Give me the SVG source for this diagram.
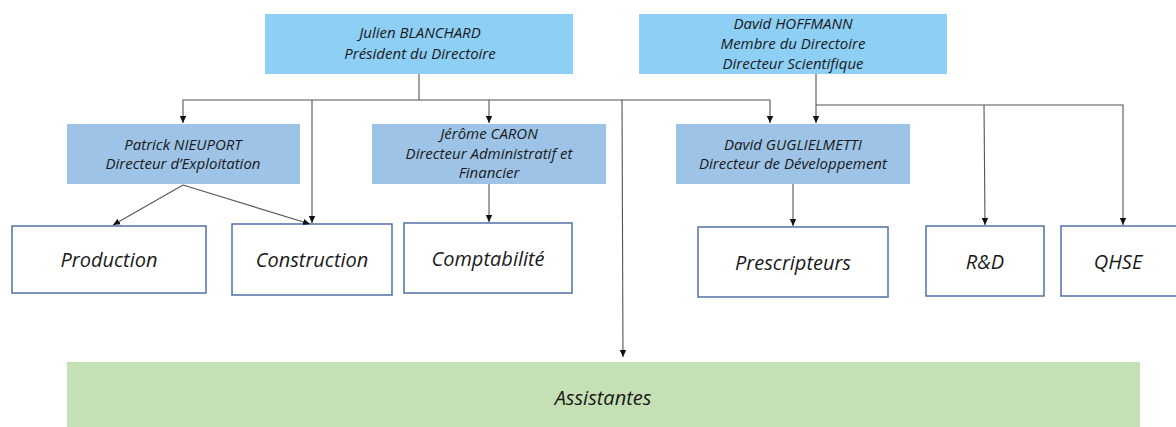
<svg xmlns="http://www.w3.org/2000/svg" width="1176" height="427" viewBox="0 0 1176 427">
<style>
.top{fill:#8ecff6;}
.mid{fill:#9dc3e6;}
.unit{fill:#ffffff;stroke:#4f71a8;stroke-width:1.5;}
.green{fill:#c5e0b4;}
text{font-family:"Open Sans",Lato,"Liberation Sans",sans-serif;font-style:italic;fill:#1a1a1a;text-anchor:middle;}
.s{font-size:15px;}
.l{font-size:20px;}
.c{fill:none;stroke:#555555;stroke-width:1.1;marker-end:url(#ah);}
.n{fill:none;stroke:#555555;stroke-width:1.1;}
</style>
<defs>
<marker id="ah" markerUnits="userSpaceOnUse" markerWidth="8" markerHeight="8" viewBox="0 0 8 8" refX="7" refY="4" orient="auto">
<path d="M0,0.8 L7,4 L0,7.2 Z" fill="#111111"/>
</marker>
</defs>
<g id="julien">
<rect class="top" x="265" y="14" width="308" height="60"/>
<text class="s" x="420" y="38">Julien BLANCHARD</text>
<text class="s" x="420" y="59">Président du Directoire</text>
</g>
<g id="hoffmann">
<rect class="top" x="639" y="14" width="308" height="60"/>
<text class="s" x="793" y="29">David HOFFMANN</text>
<text class="s" x="793" y="49">Membre du Directoire</text>
<text class="s" x="793" y="69">Directeur Scientifique</text>
</g>
<g id="patrick">
<rect class="mid" x="67" y="124" width="233" height="60"/>
<text class="s" x="183" y="150">Patrick NIEUPORT</text>
<text class="s" x="183" y="169">Directeur d’Exploitation</text>
</g>
<g id="jerome">
<rect class="mid" x="372" y="124" width="234" height="60"/>
<text class="s" x="489" y="139">Jérôme CARON</text>
<text class="s" x="489" y="159">Directeur Administratif et</text>
<text class="s" x="489" y="178">Financier</text>
</g>
<g id="guglielmetti">
<rect class="mid" x="676" y="124" width="234" height="60"/>
<text class="s" x="793" y="150">David GUGLIELMETTI</text>
<text class="s" x="793" y="169">Directeur de Développement</text>
</g>
<g id="production">
<rect class="unit" x="12" y="226" width="194" height="67"/>
<text class="l" x="109" y="267">Production</text>
</g>
<g id="construction">
<rect class="unit" x="232" y="224" width="160" height="71"/>
<text class="l" x="312" y="267">Construction</text>
</g>
<g id="comptabilite">
<rect class="unit" x="404" y="223" width="168" height="70"/>
<text class="l" x="488" y="266">Comptabilité</text>
</g>
<g id="prescripteurs">
<rect class="unit" x="698" y="227" width="190" height="70"/>
<text class="l" x="793" y="270">Prescripteurs</text>
</g>
<g id="rd">
<rect class="unit" x="926" y="226" width="118" height="70"/>
<text class="l" x="985" y="269">R&amp;D</text>
</g>
<g id="qhse">
<rect class="unit" x="1061" y="226" width="120" height="70"/>
<text class="l" x="1118" y="269">QHSE</text>
</g>
<g id="assistantes">
<rect class="green" x="67" y="362" width="1073" height="70"/>
<text class="l" x="603" y="405">Assistantes</text>
</g>
<g id="connectors">
<path class="n" d="M419,74 V100"/>
<path class="c" d="M419,100 H183 V123"/>
<path class="c" d="M419,100 H770 V123"/>
<path class="c" d="M312,100 V223"/>
<path class="c" d="M489,100 V123"/>
<path class="c" d="M622,100 L623,357"/>
<path class="c" d="M183,185 L113,225"/>
<path class="c" d="M183,185 L310,224"/>
<path class="c" d="M489,184 V222"/>
<path class="c" d="M816,74 V123"/>
<path class="c" d="M816,105 H1123 V225"/>
<path class="c" d="M984,105 L985,225"/>
<path class="c" d="M793,184 V226"/>
</g>
</svg>
